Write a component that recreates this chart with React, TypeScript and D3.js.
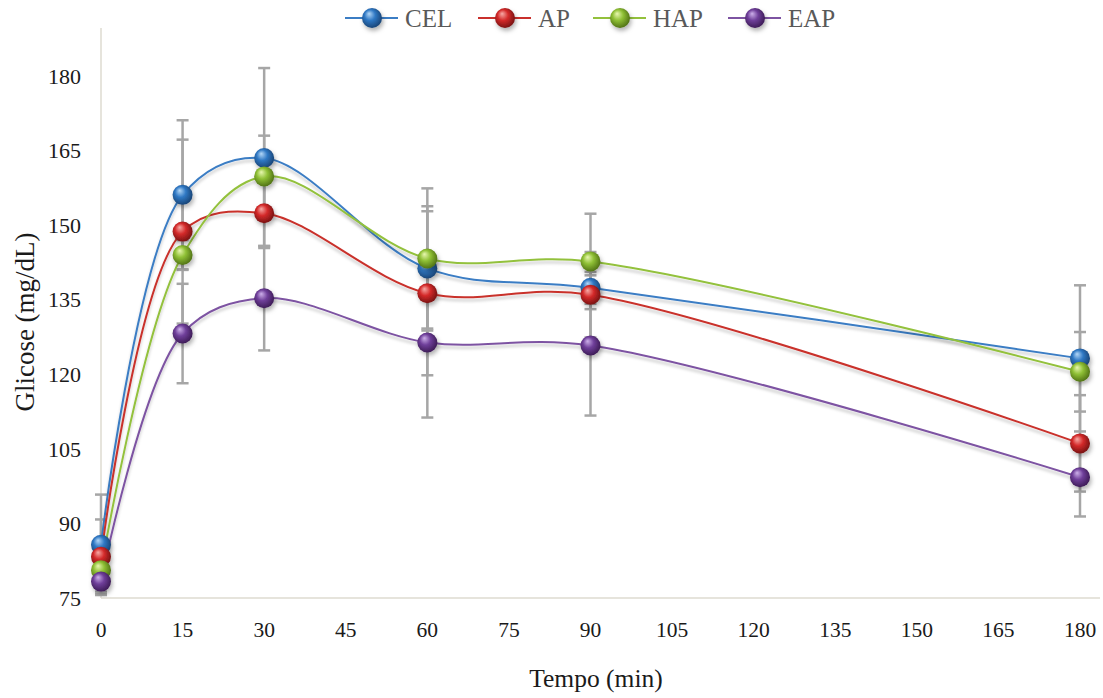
import React from "react";
import * as d3 from "d3";

const times = [0, 15, 30, 60, 90, 180];
const xTicks = [0, 15, 30, 45, 60, 75, 90, 105, 120, 135, 150, 165, 180];
const yTicks = [75, 90, 105, 120, 135, 150, 165, 180];

const seriesNames = ["CEL", "AP", "HAP", "EAP"];
const celValues = [85.7, 156.1, 163.5, 141.3, 137.4, 123.2];
const apValues = [83.3, 148.7, 152.4, 136.3, 136.0, 106.1];
const hapValues = [80.6, 144.0, 159.8, 143.3, 142.7, 120.5];
const eapValues = [78.3, 128.2, 135.3, 126.4, 125.8, 99.3];

const celErr = [10.1, 15.0, 18.1, 12.5, 3.2, 14.7];
const apErr = [7.5, 18.5, 6.6, 16.5, 8.6, 9.7];
const hapErr = [2.0, 3.0, 8.2, 14.1, 9.6, 8.0];
const eapErr = [2.0, 10.0, 10.5, 15.1, 14.1, 7.9];

const lineColors = ["#3b7dc4", "#c9302c", "#93c13c", "#7d53a2"];
const sphereLight = ["#b3d7f7", "#f7aaa6", "#e8f7b0", "#cdb0ea"];
const sphereBase = ["#2f78c4", "#d42a2a", "#8fc035", "#6f3f9a"];
const sphereDark = ["#173f6e", "#6e1010", "#4a6a12", "#38184f"];

const W = 1103;
const H = 698;

export default function App() {
  const x = d3.scaleLinear().domain([0, 180]).range([101, 1080]);
  const y = d3.scaleLinear().domain([75, 180]).range([598, 76]);
  const values = [celValues, apValues, hapValues, eapValues];
  const errs = [celErr, apErr, hapErr, eapErr];
  const line = d3
    .line<[number, number]>()
    .x((d) => x(d[0]))
    .y((d) => y(d[1]))
    .curve(d3.curveCatmullRom.alpha(0.5));

  const serif = "'Liberation Serif', 'Times New Roman', serif";
  const legendX = [345, 478, 593, 728];

  return (
    <svg
      width={W}
      height={H}
      style={{ position: "absolute", left: 0, top: 0, display: "block" }}
      fontFamily={serif}
    >
      <defs>
        {seriesNames.map((n, i) => (
          <radialGradient key={n} id={`sph${i}`} cx="45%" cy="45%" r="60%" fx="35%" fy="28%">
            <stop offset="0%" stopColor={sphereLight[i]} />
            <stop offset="45%" stopColor={sphereBase[i]} />
            <stop offset="100%" stopColor={sphereDark[i]} />
          </radialGradient>
        ))}
        <filter id="shadow" x="-50%" y="-50%" width="200%" height="200%">
          <feDropShadow dx="1.5" dy="3" stdDeviation="2" floodColor="#000" floodOpacity="0.3" />
        </filter>
        <filter id="lshadow" x="-5%" y="-20%" width="110%" height="140%">
          <feDropShadow dx="0" dy="3" stdDeviation="1.8" floodColor="#000" floodOpacity="0.22" />
        </filter>
      </defs>
      <rect width={W} height={H} fill="#fff" />

      {/* axes */}
      <line x1={101} x2={101} y1={28} y2={598} stroke="#dedbd0" strokeWidth={1.5} />
      <line x1={101} x2={1100} y1={598} y2={598} stroke="#dedbd0" strokeWidth={1.5} />

      {yTicks.map((t) => (
        <text key={t} x={81} y={y(t)} dy="0.35em" textAnchor="end" fontSize={22} fill="#1a1a1a">
          {t}
        </text>
      ))}
      {xTicks.map((t) => (
        <text key={t} x={x(t)} y={637} textAnchor="middle" fontSize={21.5} fill="#1a1a1a">
          {t}
        </text>
      ))}
      <text x={596} y={687} textAnchor="middle" fontSize={25.5} fill="#1a1a1a">
        Tempo (min)
      </text>
      <text
        transform={`translate(34,322) rotate(-90)`}
        textAnchor="middle"
        fontSize={27}
        fill="#1a1a1a"
      >
        Glicose (mg/dL)
      </text>

      {/* error bars */}
      <g stroke="#a6a6a6" strokeWidth={2.5} fill="none">
        {values.map((vals, i) =>
          vals.map((v, j) => {
            const cx = x(times[j]);
            const top = y(v + errs[i][j]);
            const bot = Math.min(y(v - errs[i][j]), 598);
            return (
              <g key={`${i}-${j}`}>
                <line x1={cx} x2={cx} y1={top} y2={bot} />
                <line x1={cx - 6} x2={cx + 6} y1={top} y2={top} />
                {y(v - errs[i][j]) <= 598 && <line x1={cx - 6} x2={cx + 6} y1={bot} y2={bot} />}
              </g>
            );
          })
        )}
      </g>

      {/* lines */}
      {values.map((vals, i) => (
        <path
          key={i}
          d={line(vals.map((v, j) => [times[j], v] as [number, number])) || ""}
          fill="none"
          stroke={lineColors[i]}
          strokeWidth={2}
          filter="url(#lshadow)"
        />
      ))}

      {/* markers */}
      {values.map((vals, i) => (
        <g key={i} filter="url(#shadow)">
          {vals.map((v, j) => (
            <circle key={j} cx={x(times[j])} cy={y(v)} r={10} fill={`url(#sph${i})`} />
          ))}
        </g>
      ))}

      {/* legend */}
      {seriesNames.map((n, i) => (
        <g key={n}>
          <line x1={legendX[i]} x2={legendX[i] + 53} y1={18} y2={18} stroke={lineColors[i]} strokeWidth={2} />
          <circle cx={legendX[i] + 27} cy={18} r={10} fill={`url(#sph${i})`} filter="url(#shadow)" />
          <text x={legendX[i] + 60} y={18} dy="0.35em" fontSize={25} fill="#595959">
            {n}
          </text>
        </g>
      ))}
    </svg>
  );
}
